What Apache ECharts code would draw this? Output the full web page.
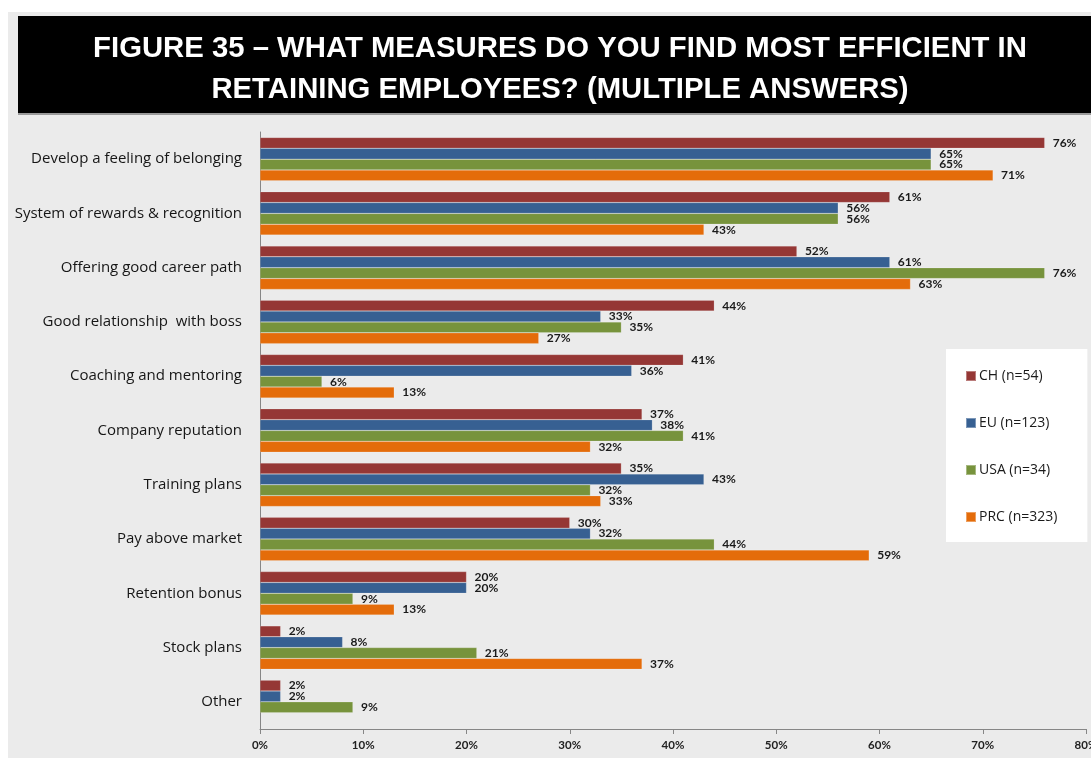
<!DOCTYPE html>
<html>
<head>
<meta charset="utf-8">
<script src="https://cdn.jsdelivr.net/npm/echarts@6/dist/echarts.min.js"></script>
<style>
html,body{margin:0;padding:0;background:#ffffff;}
#chart{width:1091px;height:758px;}
</style>
</head>
<body>
<div id="chart"></div>
<script>
const categories = [
  'Develop a feeling of belonging',
  'System of rewards & recognition',
  'Offering good career path',
  'Good relationship  with boss',
  'Coaching and mentoring',
  'Company reputation',
  'Training plans',
  'Pay above market',
  'Retention bonus',
  'Stock plans',
  'Other'
];
const seriesNames = ['CH (n=54)', 'EU (n=123)', 'USA (n=34)', 'PRC (n=323)'];
const chValues  = [76, 61, 52, 44, 41, 37, 35, 30, 20, 2, 2];
const euValues  = [65, 56, 61, 33, 36, 38, 43, 32, 20, 8, 2];
const usaValues = [65, 56, 76, 35, 6, 41, 32, 44, 9, 21, 9];
const prcValues = [71, 43, 63, 27, 13, 32, 33, 59, 13, 37, null];
const xTicks = [0, 10, 20, 30, 40, 50, 60, 70, 80];
const colors = ['#953735', '#376092', '#77933c', '#e46c0a'];
const titleText = 'FIGURE 35 – WHAT MEASURES DO YOU FIND MOST EFFICIENT IN\nRETAINING EMPLOYEES? (MULTIPLE ANSWERS)';

const chart = echarts.init(document.getElementById('chart'));
const allValues = [chValues, euValues, usaValues, prcValues];
const labelFont = 'Lato, "DejaVu Sans", sans-serif';
const catFont = '"Open Sans", Lato, sans-serif';

const series = allValues.map((vals, i) => ({
  name: seriesNames[i],
  type: 'bar',
  data: vals,
  barGap: '0%',
  barCategoryGap: '20%',
  itemStyle: { color: colors[i], borderColor: 'rgba(255,255,255,0.35)', borderWidth: 0.5 },
  label: {
    show: true,
    position: 'right',
    distance: 8,
    formatter: p => (p.value == null ? '' : p.value + '%'),
    fontFamily: labelFont,
    fontSize: 12,
    fontWeight: 'bold',
    color: '#1a1a1a'
  }
}));

chart.setOption({
  backgroundColor: '#ffffff',
  animation: false,
  color: colors,
  graphic: [
    { type: 'rect', z: -10, shape: { x: 8, y: 12, width: 1083, height: 746 }, style: { fill: '#ebebeb' } },
    { type: 'rect', z: -9, shape: { x: 18, y: 16, width: 1073, height: 97 }, style: { fill: '#000000' } },
    { type: 'rect', z: -9, shape: { x: 18, y: 113, width: 1073, height: 2 }, style: { fill: '#9a9a9a' } },
    {
      type: 'text', z: 10, x: 560, y: 28,
      style: {
        text: titleText,
        fill: '#ffffff',
        font: 'bold 29.3px "Liberation Sans", Arial, sans-serif',
        textAlign: 'center',
        textVerticalAlign: 'top',
        lineHeight: 41
      }
    }
  ],
  legend: {
    orient: 'vertical',
    left: 946,
    top: 349,
    padding: [20, 30, 18, 19],
    backgroundColor: '#ffffff',
    itemWidth: 10,
    itemHeight: 10,
    itemGap: 33,
    icon: 'rect',
    textStyle: { fontFamily: catFont, fontSize: 14, lineHeight: 14, color: '#1a1a1a', padding: [0, 0, 0, -2] },
    data: seriesNames
  },
  grid: { left: 260, right: 5, top: 132, bottom: 29, containLabel: false, outerBoundsMode: 'none' },
  xAxis: {
    type: 'value',
    min: 0,
    max: 80,
    interval: 10,
    axisLine: { show: true, lineStyle: { color: '#868686', width: 1 } },
    axisTick: { show: true, length: 5, lineStyle: { color: '#868686' } },
    splitLine: { show: false },
    axisLabel: {
      formatter: v => (xTicks.indexOf(v) >= 0 ? v + '%' : ''),
      fontFamily: labelFont,
      fontSize: 11.5,
      fontWeight: 'bold',
      color: '#222222',
      margin: 10,
      hideOverlap: false
    }
  },
  yAxis: {
    type: 'category',
    data: categories,
    inverse: true,
    axisLine: { show: true, lineStyle: { color: '#868686', width: 1 } },
    axisTick: { show: false },
    axisLabel: {
      fontFamily: catFont,
      fontSize: 15,
      color: '#161616',
      margin: 18
    }
  },
  series: series
});
</script>
</body>
</html>
